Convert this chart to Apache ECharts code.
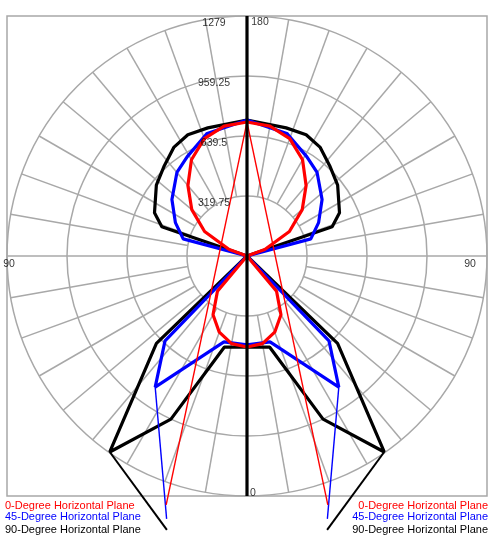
<!DOCTYPE html>
<html>
<head>
<meta charset="utf-8">
<script src="https://cdn.jsdelivr.net/npm/echarts@6/dist/echarts.min.js"></script>
<style>
  html, body { margin: 0; padding: 0; background: #fff; }
  #chart { width: 492px; height: 535px; }
</style>
</head>
<body>
<div id="chart"></div>
<script>
// Photometric polar diagram: candela vs. vertical angle (0 = nadir, 180 = zenith),
// each plane drawn on the left and mirrored on the right.

const radiusMax = 1279;
const ringStep = 319.75;
const ringLabels = ['319.75', '639.5', '959.25', '1279'];
const ringValues = [319.75, 639.5, 959.25, 1279];

// [vertical angle, candela]
const plane0 = [[0, 485], [10, 474], [20, 432], [30, 362], [40, 245], [45, 0], [100, 0],
  [110, 101], [120, 261], [130, 384], [140, 490], [150, 592], [160, 666], [170, 703], [180, 714]];
const plane45 = [[0, 474], [15, 474], [35, 853], [44, 629], [50, 0], [100, 0],
  [105, 352], [115, 421], [127, 501], [140, 581], [149, 618], [162, 687], [180, 725]];
const plane90 = [[0, 485], [14, 501], [25, 959], [35, 1275], [46, 671], [52, 0], [100, 0],
  [109, 480], [115, 544], [128, 613], [137, 650], [146, 698], [154, 719], [163, 714], [180, 725]];

// off-scale continuation segments for each plane
const plane0Far = [[180, 714], [18, 1394]];
const plane45Far = [[35, 853], [17, 1465]];
const plane90Far = [[35, 1275], [16.3, 1521]];

const legendNames = ['0-Degree Horizontal Plane', '45-Degree Horizontal Plane', '90-Degree Horizontal Plane'];
const planeColors = ['#ff0000', '#0000ff', '#000000'];

const FONT = "'Liberation Sans', Arial, sans-serif";

// grid polar (0) ends at 1279; the data polar (1) shares the same scale but
// reaches further so off-scale values are not clamped to the outer ring
const CENTER = [247, 256];
const GRID_RADIUS = 240;
const dataMax = ringStep * 5;
const DATA_RADIUS = GRID_RADIUS * dataMax / radiusMax;

// left half uses the angle as is, right half mirrors it to 360 - angle
function mirrored(points) {
  const left = points.map(p => [p[1], p[0]]);
  const right = points.slice().reverse().map(p => [p[1], 360 - p[0]]);
  return left.concat(right);
}
function side(points, mirror) {
  return points.map(p => [p[1], mirror ? 360 - p[0] : p[0]]);
}
function polarLine(data, color, width, z) {
  return {
    type: 'line', coordinateSystem: 'polar', polarIndex: 1, symbol: 'none',
    silent: true, clip: false, lineStyle: { color: color, width: width }, data: data, z: z
  };
}

const series = [];

// radial spokes every 10 degrees, from the first ring outwards
for (let a = 10; a < 360; a += 10) {
  if (a === 90 || a === 180 || a === 270) continue;
  series.push(polarLine([[ringValues[0], a], [radiusMax, a]], '#a8a8a8', 1.5, 1));
}
// horizontal 90-90 line
series.push(polarLine([[radiusMax, 90], [radiusMax, 270]], '#a8a8a8', 1.5, 1));

const planes = [plane0, plane45, plane90];
const farSegments = [plane0Far, plane45Far, plane90Far];
// draw 90, then 45, then 0 on top
[2, 1, 0].forEach((i, k) => {
  series.push(polarLine(mirrored(planes[i]), planeColors[i], 3.2, 3 + k));
  [false, true].forEach(m => {
    series.push(polarLine(side(farSegments[i], m), planeColors[i], i === 2 ? 2 : 1.4, 3 + k));
  });
});

// vertical 0-180 axis
series.push(polarLine([[radiusMax, 0], [radiusMax, 180]], '#000', 3.2, 10));

// ring value labels along the upper axis
series.push({
  type: 'scatter', coordinateSystem: 'polar', polarIndex: 0, symbolSize: 1, silent: true,
  itemStyle: { color: 'rgba(0,0,0,0)' },
  data: ringValues.map(v => [v, 180]),
  label: {
    show: true, position: 'inside', offset: [-33, 7],
    formatter: p => ringLabels[p.dataIndex],
    color: '#000', fontSize: 10.5, fontFamily: FONT
  }, z: 11
});

// angle labels
const angleLabels = ['0', '90', '180', '90'];
const anglePositions = [0, 90, 180, 270];
const angleOffsets = [[6, -3], [2, 8], [13, 6], [-17, 8]];
series.push({
  type: 'scatter', coordinateSystem: 'polar', polarIndex: 0, symbolSize: 1, silent: true,
  itemStyle: { color: 'rgba(0,0,0,0)' },
  data: anglePositions.map((a, i) => ({
    value: [radiusMax, a],
    label: { offset: angleOffsets[i] }
  })),
  label: {
    show: true, position: 'inside',
    formatter: p => angleLabels[p.dataIndex],
    color: '#000', fontSize: 10.5, fontFamily: FONT
  }, z: 11
});

// frame and legend text, repeated in both bottom corners
const legendTops = [506, 517, 530];
const graphic = [{
  type: 'rect', silent: true, z: 0,
  shape: { x: CENTER[0] - GRID_RADIUS, y: CENTER[1] - GRID_RADIUS, width: GRID_RADIUS * 2, height: GRID_RADIUS * 2 },
  style: { fill: 'none', stroke: '#a8a8a8', lineWidth: 1.5 }
}];
legendNames.forEach((name, i) => {
  graphic.push({
    type: 'text', silent: true, x: 5, y: legendTops[i],
    style: { text: name, fill: planeColors[i], font: '11px ' + FONT, textAlign: 'left', textVerticalAlign: 'middle' }
  });
  graphic.push({
    type: 'text', silent: true, x: 488, y: legendTops[i],
    style: { text: name, fill: planeColors[i], font: '11px ' + FONT, textAlign: 'right', textVerticalAlign: 'middle' }
  });
});

const hiddenAngle = {
  type: 'value', min: 0, max: 360, startAngle: 270, clockwise: true,
  axisLine: { show: false }, axisTick: { show: false }, axisLabel: { show: false },
  splitLine: { show: false }
};

const chart = echarts.init(document.getElementById('chart'), null, { renderer: 'canvas' });
chart.setOption({
  animation: false,
  backgroundColor: '#fff',
  polar: [
    { center: CENTER, radius: GRID_RADIUS },
    { center: CENTER, radius: DATA_RADIUS }
  ],
  angleAxis: [
    Object.assign({ polarIndex: 0 }, hiddenAngle),
    Object.assign({ polarIndex: 1 }, hiddenAngle)
  ],
  radiusAxis: [
    {
      polarIndex: 0, type: 'value', min: 0, max: radiusMax, interval: ringStep,
      axisLine: { show: false }, axisTick: { show: false }, axisLabel: { show: false },
      splitLine: { show: true, lineStyle: { color: '#a8a8a8', width: 1.5 } }
    },
    {
      polarIndex: 1, type: 'value', min: 0, max: dataMax, interval: ringStep,
      axisLine: { show: false }, axisTick: { show: false }, axisLabel: { show: false },
      splitLine: { show: false }
    }
  ],
  graphic: graphic,
  series: series
});
</script>
</body>
</html>
